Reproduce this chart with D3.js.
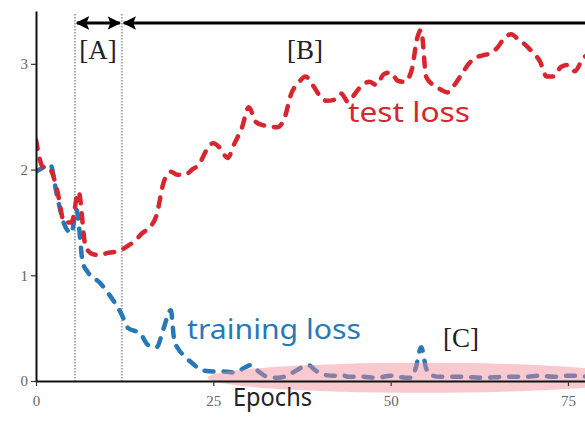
<!DOCTYPE html>
<html>
<head>
<meta charset="utf-8">
<script src="https://cdn.jsdelivr.net/npm/d3@7"></script>
<style>
  body { margin: 0; background: #fff; }
  svg { display: block; }
</style>
</head>
<body>
<div id="container"></div>
<script>
// values
const testEpochs = [0, 1, 2, 3, 4, 5, 6, 7, 8, 9, 10, 11, 12, 13, 14, 15, 16, 17, 18, 19,
  20, 21, 22, 23, 24, 25, 26, 27, 28, 29, 30, 31, 32, 33, 34, 35, 36, 37, 38, 39,
  40, 41, 42, 43, 44, 45, 46, 47, 48, 49, 50, 51, 52, 53, 53.7, 54.3, 55, 56, 57, 58, 59,
  60, 61, 62, 63, 64, 65, 66, 67, 68, 69, 70, 71, 72, 73, 74, 75, 76, 77, 78];
const testLoss = [2.28, 2.02, 2.0, 1.8, 1.5, 1.5, 1.79, 1.27, 1.2, 1.19, 1.21, 1.22, 1.24, 1.28, 1.33, 1.4, 1.45, 1.57, 1.88, 1.98,
  1.95, 1.95, 2.0, 2.05, 2.18, 2.25, 2.2, 2.11, 2.25, 2.39, 2.59, 2.45, 2.42, 2.41, 2.4, 2.48, 2.72, 2.82, 2.88, 2.8,
  2.7, 2.65, 2.66, 2.72, 2.64, 2.72, 2.8, 2.83, 2.8, 2.9, 2.92, 2.84, 2.83, 2.95, 3.23, 3.32, 2.88, 2.8, 2.76, 2.73, 2.8,
  2.9, 3.0, 3.06, 3.08, 3.1, 3.15, 3.24, 3.28, 3.23, 3.18, 3.11, 3.03, 2.88, 2.88, 2.97, 2.99, 2.93, 3.04, 3.1];

const trainEpochs = [0, 1, 2, 3, 4, 5, 5.7, 6.6, 7.3, 9, 10.4, 12, 13, 14.7, 15.8, 17, 18, 19, 19.5, 20,
  21, 22, 23.5, 25, 26.5, 28, 29.5, 30.2, 31, 32.6, 34, 35, 36.2, 37.5, 38.4, 39.4, 40.5, 42, 43, 44,
  46, 48, 50, 51, 53, 53.6, 54.3, 55, 55.5, 57, 60, 63, 66, 69, 71, 73, 75, 78];
const trainLoss = [1.98, 2.02, 2.05, 1.74, 1.48, 1.4, 1.62, 1.12, 1.03, 0.93, 0.81, 0.64, 0.5, 0.45, 0.34, 0.32, 0.5, 0.67, 0.38, 0.31,
  0.23, 0.17, 0.1, 0.09, 0.09, 0.08, 0.13, 0.15, 0.11, 0.04, 0.03, 0.04, 0.08, 0.13, 0.15, 0.1, 0.06, 0.05, 0.06, 0.04,
  0.04, 0.03, 0.05, 0.04, 0.03, 0.14, 0.32, 0.12, 0.06, 0.04, 0.04, 0.03, 0.04, 0.04, 0.05, 0.04, 0.05, 0.04];

const xTicks = [0, 25, 50, 75];
const yTicks = [0, 1, 2, 3];
const phaseBounds = [5.5, 12.1]; // dotted lines between [A] and [B]

const width = 585;
const height = 436;

const svg = d3.select("#container")
  .append("svg")
  .attr("width", width)
  .attr("height", height);

const x = d3.scaleLinear().domain([0, 77.4]).range([36, 585]);
const y = d3.scaleLinear().domain([0, 3.5]).range([381, 11]);

svg.append("clipPath").attr("id", "clip")
  .append("rect").attr("x", 36).attr("y", 0).attr("width", 549).attr("height", 400);

// dotted phase lines
svg.selectAll(".phase")
  .data(phaseBounds)
  .enter().append("line")
  .attr("x1", d => x(d)).attr("x2", d => x(d))
  .attr("y1", 14).attr("y2", y(0))
  .attr("stroke", "#a9a9a9")
  .attr("stroke-width", 2)
  .attr("stroke-dasharray", "1.5,1.5");

const line = d3.line()
  .x(d => x(d[0]))
  .y(d => y(d[1]))
  .curve(d3.curveMonotoneX);

const plot = svg.append("g").attr("clip-path", "url(#clip)");

plot.append("path")
  .datum(d3.zip(trainEpochs, trainLoss))
  .attr("d", line)
  .attr("fill", "none")
  .attr("stroke", "#2878b8")
  .attr("stroke-width", 4.5)
  .attr("stroke-linecap", "round")
  .attr("stroke-dasharray", "9,10");

plot.append("path")
  .datum(d3.zip(testEpochs, testLoss))
  .attr("d", line)
  .attr("fill", "none")
  .attr("stroke", "#d7262f")
  .attr("stroke-width", 4.5)
  .attr("stroke-linecap", "round")
  .attr("stroke-dasharray", "9,10");

// axes
const xAxis = svg.append("g")
  .attr("transform", `translate(0,${y(0)})`)
  .call(d3.axisBottom(x).tickValues(xTicks).tickFormat(d3.format("d")).tickSize(5).tickSizeOuter(0));
const yAxis = svg.append("g")
  .attr("transform", `translate(${x(0)},0)`)
  .call(d3.axisLeft(y).tickValues(yTicks).tickFormat(d3.format("d")).tickSize(5).tickSizeOuter(0));

[xAxis, yAxis].forEach(g => {
  g.select(".domain").attr("stroke", "#111").attr("stroke-width", 2);
  g.selectAll(".tick line").attr("stroke", "#333").attr("stroke-width", 1.2);
  g.selectAll(".tick text")
    .attr("fill", "#666")
    .style("font-family", "'Liberation Serif', serif")
    .style("font-size", "15px");
});
xAxis.selectAll(".tick text").attr("dy", "1.1em");
yAxis.selectAll(".tick text").attr("x", -8);

// pink highlight over the flat training loss
plot.append("ellipse")
  .attr("cx", x(54.5))
  .attr("cy", y(0.03))
  .attr("rx", 215)
  .attr("ry", 15)
  .attr("fill", "#f08a95")
  .attr("opacity", 0.45);

// arrows
const defs = svg.append("defs");
defs.append("marker")
  .attr("id", "head")
  .attr("viewBox", "0 0 10 10")
  .attr("refX", 9).attr("refY", 5)
  .attr("markerWidth", 4.5).attr("markerHeight", 4.5)
  .attr("orient", "auto-start-reverse")
  .append("path")
  .attr("d", "M0,0 L10,5 L0,10 L2,5 Z")
  .attr("fill", "#000");

svg.append("line")
  .attr("x1", x(phaseBounds[0]) + 2).attr("x2", x(phaseBounds[1]) - 2)
  .attr("y1", 23).attr("y2", 23)
  .attr("stroke", "#000").attr("stroke-width", 3)
  .attr("marker-start", "url(#head)")
  .attr("marker-end", "url(#head)");

svg.append("line")
  .attr("x1", x(phaseBounds[1]) + 2).attr("x2", width + 5)
  .attr("y1", 23).attr("y2", 23)
  .attr("stroke", "#000").attr("stroke-width", 3)
  .attr("marker-start", "url(#head)");

// bracket labels
const serif = "'Liberation Serif', 'DejaVu Serif', serif";
svg.append("text").attr("x", 98).attr("y", 59).attr("text-anchor", "middle")
  .style("font-family", serif).style("font-size", "27px").attr("fill", "#222").text("[A]");
svg.append("text").attr("x", 305).attr("y", 59).attr("text-anchor", "middle")
  .style("font-family", serif).style("font-size", "27px").attr("fill", "#222").text("[B]");
svg.append("text").attr("x", 461).attr("y", 347).attr("text-anchor", "middle")
  .style("font-family", serif).style("font-size", "27px").attr("fill", "#222").text("[C]");

// series labels
const hand = "'Noto Sans', 'Open Sans', sans-serif";
svg.append("text").attr("x", 348).attr("y", 122)
  .attr("textLength", 122).attr("lengthAdjust", "spacingAndGlyphs")
  .style("font-family", hand).style("font-size", "28px").attr("fill", "#d7262f").text("test loss");
svg.append("text").attr("x", 187).attr("y", 339)
  .attr("textLength", 174).attr("lengthAdjust", "spacingAndGlyphs")
  .style("font-family", hand).style("font-size", "28px").attr("fill", "#2878b8").text("training loss");
svg.append("text").attr("x", 233).attr("y", 406)
  .attr("textLength", 79).attr("lengthAdjust", "spacingAndGlyphs")
  .style("font-family", hand).style("font-size", "25px").attr("fill", "#222").text("Epochs");
</script>
</body>
</html>
